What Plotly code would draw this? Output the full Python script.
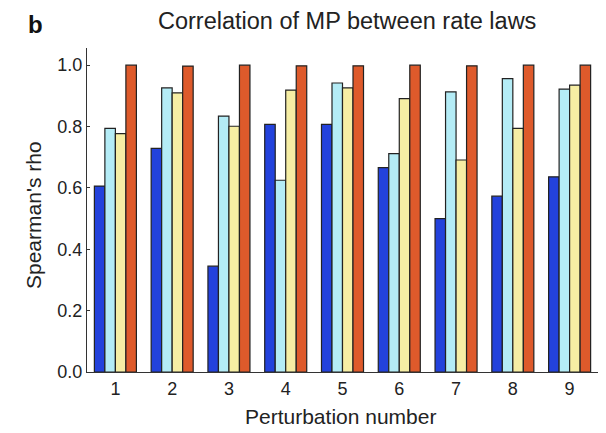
import plotly.graph_objects as go

perturbations = [1, 2, 3, 4, 5, 6, 7, 8, 9]
series_a = [0.606, 0.729, 0.345, 0.807, 0.807, 0.666, 0.500, 0.573, 0.636]
series_b = [0.794, 0.926, 0.834, 0.625, 0.942, 0.712, 0.913, 0.956, 0.922]
series_c = [0.777, 0.910, 0.801, 0.919, 0.926, 0.891, 0.691, 0.794, 0.935]
series_d = [1.000, 0.997, 1.000, 0.998, 0.998, 1.000, 0.998, 1.000, 1.000]
y_ticks = [0.0, 0.2, 0.4, 0.6, 0.8, 1.0]

colors = ["#2342dc", "#b4ecf6", "#f6eea4", "#de5a2b"]
fig = go.Figure()
for vals, col, name in zip([series_a, series_b, series_c, series_d], colors, ["A", "B", "C", "D"]):
    fig.add_trace(go.Bar(x=perturbations, y=vals, name=name,
                         marker=dict(color=col, line=dict(color="#222222", width=1.2))))

FONT = "Liberation Sans, Arial, sans-serif"
# page has an 8px body margin; figure is sized so that the plot area lands where the reference has it
fig.update_layout(
    width=598, height=425,
    margin=dict(l=79, r=8, t=40, b=61, autoexpand=False),
    paper_bgcolor="white", plot_bgcolor="white",
    barmode="group", bargap=0.26, bargroupgap=0,
    showlegend=False,
    font=dict(family=FONT, color="#222222"),
    annotations=[
        dict(text="Correlation of MP between rate laws", xref="paper", yref="paper",
             x=(347 - 87) / 511, y=1 + (48 - 21) / 324, xanchor="center", yanchor="middle",
             showarrow=False, font=dict(size=23.5, color="#222222")),
        dict(text="<b>b</b>", xref="paper", yref="paper", x=(35 - 87) / 511,
             y=1 + (48 - 24) / 324, xanchor="center", yanchor="middle", showarrow=False,
             font=dict(size=24, color="#111111")),
        dict(text="Perturbation number", xref="paper", yref="paper",
             x=(340 - 87) / 511, y=-(416 - 372) / 324, xanchor="center", yanchor="middle",
             showarrow=False, font=dict(size=21, color="#222222")),
        dict(text="Spearman's rho", xref="paper", yref="paper", textangle=-90,
             x=(33 - 87) / 511, y=(372 - 215) / 324, xanchor="center", yanchor="middle",
             showarrow=False, font=dict(size=21, color="#222222")),
    ],
)
fig.update_xaxes(range=[0.5, 9.5], tickvals=perturbations, ticks="", showline=True,
                 linecolor="#333333", linewidth=1.2, showgrid=False, zeroline=False,
                 tickfont=dict(size=18), automargin=False)
fig.update_yaxes(range=[0, 1.056], tickvals=y_ticks, tickformat=".1f", ticks="inside",
                 ticklen=3, tickcolor="#333333", showline=True, linecolor="#333333",
                 linewidth=1.2, showgrid=False, zeroline=False, tickfont=dict(size=18),
                 automargin=False)
fig.write_html("out.html")
